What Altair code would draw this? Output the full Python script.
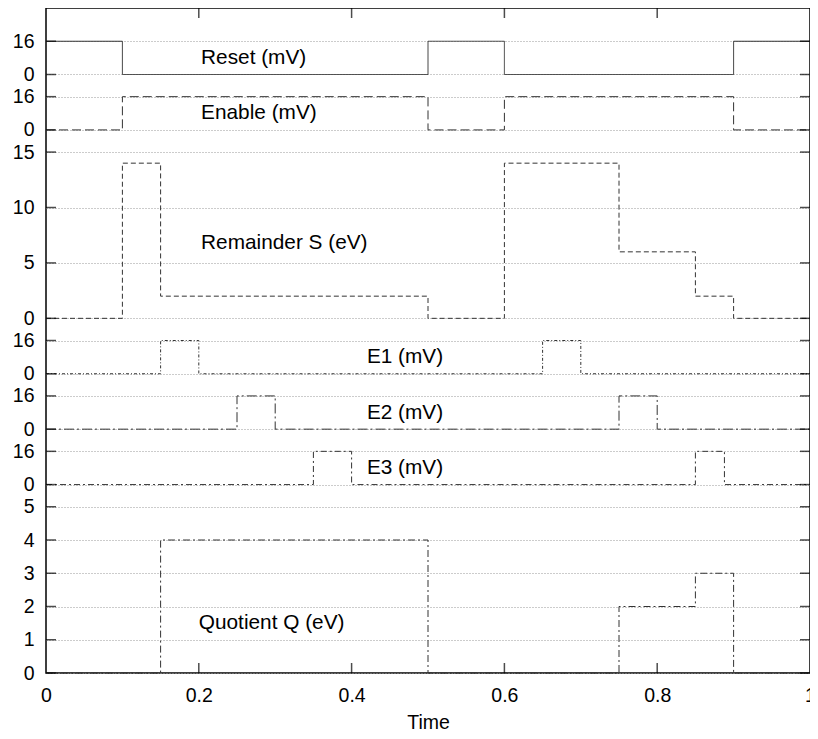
import altair as alt
import pandas as pd

# ---------------- data ----------------
signal_names = ["Reset (mV)", "Enable (mV)", "Remainder S (eV)", "E1 (mV)", "E2 (mV)", "E3 (mV)", "Quotient Q (eV)"]

reset_t = [0, 0.1, 0.5, 0.6, 0.9, 1.0]
reset_v = [16, 0, 16, 0, 16, 16]
enable_t = [0, 0.1, 0.5, 0.6, 0.9, 1.0]
enable_v = [0, 16, 0, 16, 0, 0]
rem_t = [0, 0.1, 0.15, 0.5, 0.6, 0.75, 0.85, 0.9, 1.0]
rem_v = [0, 14, 2, 0, 14, 6, 2, 0, 0]
e1_t = [0, 0.15, 0.2, 0.65, 0.7, 1.0]
e1_v = [0, 16, 0, 16, 0, 0]
e2_t = [0, 0.25, 0.3, 0.75, 0.8, 1.0]
e2_v = [0, 16, 0, 16, 0, 0]
e3_t = [0, 0.35, 0.4, 0.85, 0.888, 1.0]
e3_v = [0, 16, 0, 16, 0, 0]
q_t = [0, 0.15, 0.5, 0.75, 0.85, 0.9, 1.0]
q_v = [0, 4, 0, 2, 3, 0, 0]

# tick labels of each stacked panel
reset_ticks = [0, 16]
enable_ticks = [0, 16]
rem_ticks = [0, 5, 10, 15]
e1_ticks = [0, 16]
e2_ticks = [0, 16]
e3_ticks = [0, 16]
q_ticks = [0, 1, 2, 3, 4, 5]

x_ticks = [0, 0.2, 0.4, 0.6, 0.8, 1.0]

# ---------------- stacking layout (offset, scale) ----------------
panels = {
    "Reset (mV)": (18.0, 1 / 16, reset_t, reset_v, reset_ticks),
    "Enable (mV)": (49 / 3, 1 / 16, enable_t, enable_v, enable_ticks),
    "Remainder S (eV)": (32 / 3, 1 / 3, rem_t, rem_v, rem_ticks),
    "E1 (mV)": (9.0, 1 / 16, e1_t, e1_v, e1_ticks),
    "E2 (mV)": (22 / 3, 1 / 16, e2_t, e2_v, e2_ticks),
    "E3 (mV)": (17 / 3, 1 / 16, e3_t, e3_v, e3_ticks),
    "Quotient Q (eV)": (0.0, 1.0, q_t, q_v, q_ticks),
}
label_pos = {
    "Reset (mV)": (0.203, 18.5),
    "Enable (mV)": (0.203, 16.83),
    "Remainder S (eV)": (0.203, 12.92),
    "E1 (mV)": (0.42, 9.5),
    "E2 (mV)": (0.42, 7.83),
    "E3 (mV)": (0.42, 6.17),
    "Quotient Q (eV)": (0.2, 1.5),
}
dashes = {
    "Reset (mV)": [1, 0],
    "Enable (mV)": [9, 4],
    "Remainder S (eV)": [5, 3],
    "E1 (mV)": [3, 2, 1, 2],
    "E2 (mV)": [10, 3, 2, 3],
    "E3 (mV)": [6, 3, 2, 3],
    "Quotient Q (eV)": [7, 3, 2, 3],
}

rows = []
for name in signal_names:
    off, k, ts, vs, _ = panels[name]
    for t, v in zip(ts, vs):
        rows.append({"signal": name, "t": t, "y": off + v * k})
df = pd.DataFrame(rows)

ytick_pos, ytick_lab = [], []
for name in signal_names:
    off, k, _, _, ticks = panels[name]
    for v in ticks:
        ytick_pos.append(round(off + v * k, 6))
        ytick_lab.append(str(v))

expr = "''"
for p, l in zip(ytick_pos, ytick_lab):
    expr = f"abs(datum.value - {p}) < 0.01 ? '{l}' : ({expr})"

lab_df = pd.DataFrame({
    "label": signal_names,
    "t": [label_pos[n][0] for n in signal_names],
    "y": [label_pos[n][1] for n in signal_names],
})
ytick_df = pd.DataFrame({"y": ytick_pos})
xtick_df = pd.DataFrame({"t": [0.2, 0.4, 0.6, 0.8]})

FONT = "Liberation Sans"

xscale = alt.Scale(domain=[0, 1], nice=False, zero=False)
yscale = alt.Scale(domain=[0, 20], nice=False, zero=False)

lines = alt.Chart(df).mark_line(interpolate="step-after", color="#333", strokeWidth=1).encode(
    x=alt.X("t:Q", scale=xscale, title="Time",
            axis=alt.Axis(values=x_ticks, tickCount=20, format="~g", grid=False, tickSize=0,
                          domain=False, labelPadding=13, labelFontSize=19.5, titleFontSize=19.5,
                          titleFontWeight="normal", titlePadding=9, labelColor="black",
                          titleColor="black", labelFont=FONT, titleFont=FONT,
                          labelOverlap=False, labelFlush=False)),
    y=alt.Y("y:Q", scale=yscale, title=None,
            axis=alt.Axis(values=ytick_pos, tickCount=60, labelExpr=expr, grid=True,
                          gridDash=[1, 2], gridColor="#999", gridWidth=1, tickSize=0,
                          domain=False, labelPadding=12, labelFontSize=19.5, labelColor="black",
                          labelFont=FONT, labelOverlap=False, labelFlush=False)),
    strokeDash=alt.StrokeDash("signal:N", legend=None,
                              scale=alt.Scale(domain=signal_names,
                                              range=[dashes[n] for n in signal_names])),
)

labels = alt.Chart(lab_df).mark_text(align="left", baseline="middle", fontSize=20.8,
                                     font=FONT, color="black").encode(
    x="t:Q", y="y:Q", text="label:N")

left_ticks = alt.Chart(ytick_df).mark_tick(orient="horizontal", size=10, thickness=1.5,
                                           color="black", xOffset=5).encode(
    x=alt.datum(0), y="y:Q")
right_ticks = alt.Chart(ytick_df).mark_tick(orient="horizontal", size=10, thickness=1.5,
                                            color="black", xOffset=-5).encode(
    x=alt.datum(1), y="y:Q")
bottom_ticks = alt.Chart(xtick_df).mark_tick(orient="vertical", size=10, thickness=1.5,
                                             color="black", yOffset=-5).encode(
    x="t:Q", y=alt.datum(0))
top_ticks = alt.Chart(xtick_df).mark_tick(orient="vertical", size=10, thickness=1.5,
                                          color="black", yOffset=5).encode(
    x="t:Q", y=alt.datum(20))

chart = alt.layer(lines, labels, left_ticks, right_ticks, bottom_ticks, top_ticks).properties(
    width=764, height=665,
    autosize=alt.AutoSizeParams(type="none"),
    padding={"left": 38, "top": 0, "right": 0, "bottom": 60},
).configure_view(stroke="black", strokeWidth=1.5).configure_axis(
    labelOverlap=False, labelFlush=False, labelBound=False
)

chart.save("out.html", embed_options={"renderer": "svg", "actions": False})
